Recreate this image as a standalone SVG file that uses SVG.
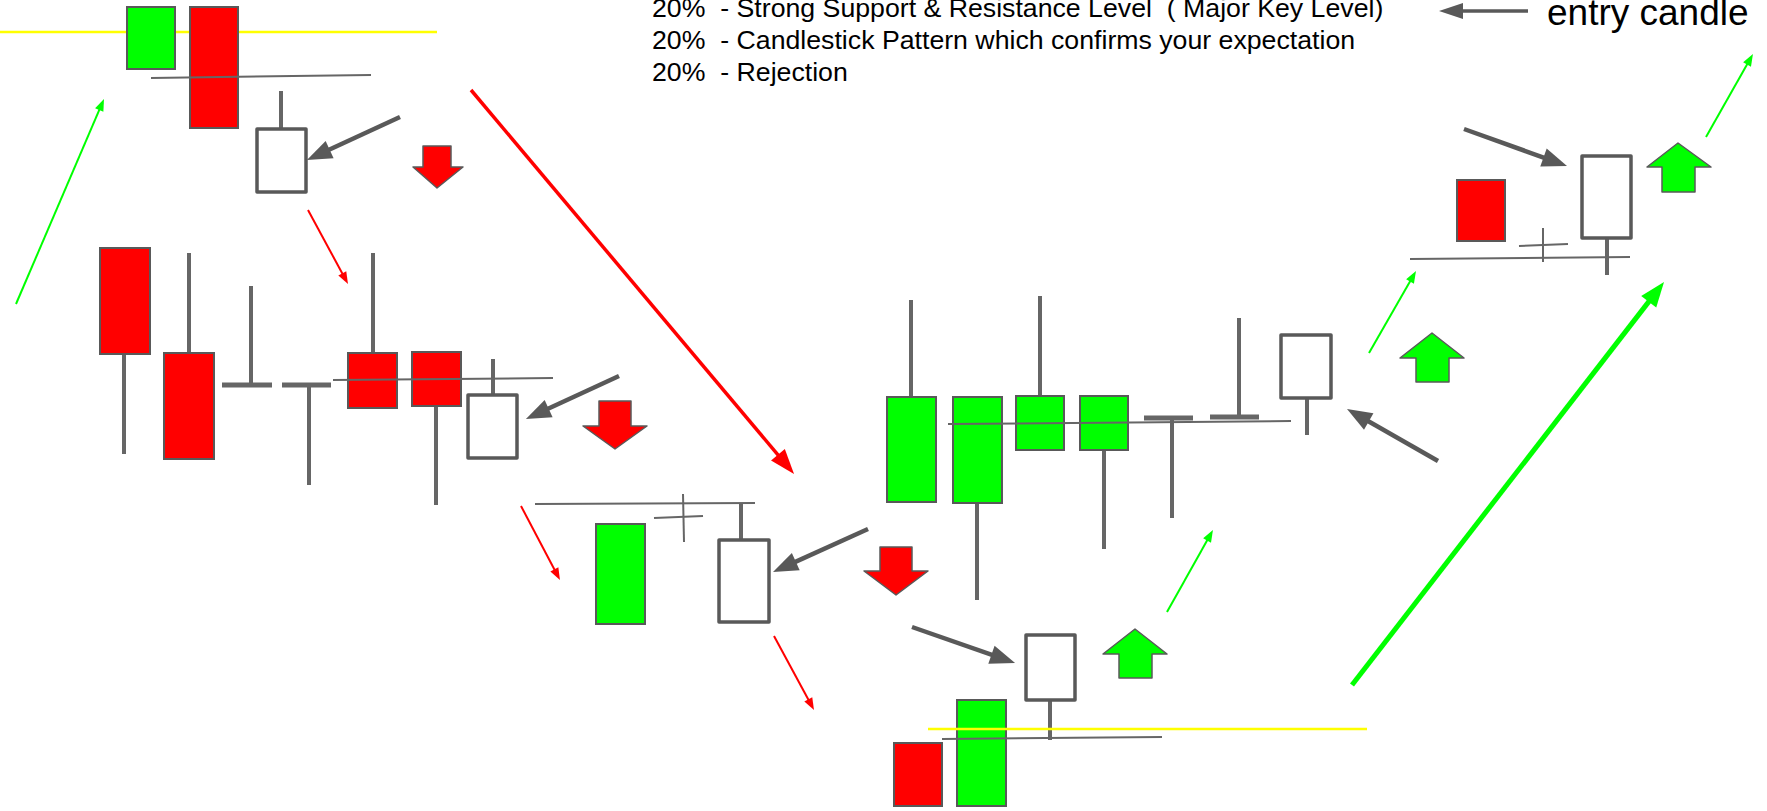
<svg xmlns="http://www.w3.org/2000/svg" width="1767" height="811" viewBox="0 0 1767 811">
<style>
.r{fill:#ff0000;stroke:#595959;stroke-width:2}
.g{fill:#00ff00;stroke:#595959;stroke-width:2}
.w{fill:#ffffff;stroke:#595959;stroke-width:3.5;stroke-linejoin:round}
.wk{stroke:#666666;stroke-width:4;fill:none}
.bar{stroke:#666666;stroke-width:5;fill:none}
.lvl{stroke:#666666;stroke-width:2;fill:none}
.yl{stroke:#ffff00;stroke-width:2.5;fill:none}
.ga{stroke:#595959;stroke-width:4.5;fill:none;marker-end:url(#mg)}
.la{stroke:#595959;stroke-width:3.5;fill:none;marker-end:url(#ml)}
.rb{stroke:#ff0000;stroke-width:3.5;fill:none;marker-end:url(#mrb)}
.gb{stroke:#00ff00;stroke-width:5;fill:none;marker-end:url(#mgb)}
.rt{stroke:#ff0000;stroke-width:2;fill:none;marker-end:url(#mrt)}
.gt{stroke:#00ff00;stroke-width:2;fill:none;marker-end:url(#mgt)}
.dn{fill:#ff0000;stroke:#595959;stroke-width:1.5;stroke-linejoin:round}
.up{fill:#00ff00;stroke:#595959;stroke-width:1.5;stroke-linejoin:round}
.t{font-family:"Liberation Sans",Arial,sans-serif;fill:#000000}
</style>
<defs>
<marker id="mg" markerUnits="userSpaceOnUse" markerWidth="25" markerHeight="19" refX="15" refY="9.5" orient="auto" overflow="visible"><path d="M0,0 L25,9.5 L0,19 z" fill="#595959"/></marker>
<marker id="ml" markerUnits="userSpaceOnUse" markerWidth="24" markerHeight="16" refX="14" refY="8" orient="auto" overflow="visible"><path d="M0,0 L24,8 L0,16 z" fill="#595959"/></marker>
<marker id="mrb" markerUnits="userSpaceOnUse" markerWidth="25" markerHeight="18" refX="15" refY="9" orient="auto" overflow="visible"><path d="M0,0 L25,9 L0,18 z" fill="#ff0000"/></marker>
<marker id="mgb" markerUnits="userSpaceOnUse" markerWidth="25" markerHeight="19" refX="15" refY="9.5" orient="auto" overflow="visible"><path d="M0,0 L25,9.5 L0,19 z" fill="#00ff00"/></marker>
<marker id="mrt" markerUnits="userSpaceOnUse" markerWidth="12" markerHeight="9" refX="8" refY="4.5" orient="auto" overflow="visible"><path d="M0,0 L12,4.5 L0,9 z" fill="#ff0000"/></marker>
<marker id="mgt" markerUnits="userSpaceOnUse" markerWidth="12" markerHeight="9" refX="8" refY="4.5" orient="auto" overflow="visible"><path d="M0,0 L12,4.5 L0,9 z" fill="#00ff00"/></marker>
</defs>
<rect x="0" y="0" width="1767" height="811" fill="#ffffff"/>

<g id="level-yellow-top"><line class="yl" x1="0" y1="32" x2="437" y2="32"/></g>

<g id="legend">
<text class="t" font-size="26.7" x="652" y="17" xml:space="preserve">20%  - Strong Support &amp; Resistance Level  ( Major Key Level)</text>
<text class="t" font-size="26.7" x="652" y="49" xml:space="preserve">20%  - Candlestick Pattern which confirms your expectation</text>
<text class="t" font-size="26.7" x="652" y="81" xml:space="preserve">20%  - Rejection</text>
<text class="t" font-size="37" x="1547" y="25">entry candle</text>
</g>

<g id="c1"><rect class="g" x="127" y="7" width="48" height="62"/></g>
<g id="c2"><rect class="r" x="190" y="7" width="48" height="121"/></g>
<g id="c3"><line class="wk" x1="281" y1="91" x2="281" y2="129"/><rect class="w" x="257" y="129" width="49" height="63"/></g>

<g id="c4"><line class="wk" x1="124" y1="354" x2="124" y2="454"/><rect class="r" x="100" y="248" width="50" height="106"/></g>
<g id="c5"><line class="wk" x1="189" y1="253" x2="189" y2="353"/><rect class="r" x="164" y="353" width="50" height="106"/></g>
<g id="c6"><line class="wk" x1="251" y1="286" x2="251" y2="385"/><line class="bar" x1="222" y1="385" x2="272" y2="385"/></g>
<g id="c7"><line class="wk" x1="309" y1="385" x2="309" y2="485"/><line class="bar" x1="282" y1="385" x2="331" y2="385"/></g>
<g id="c8"><line class="wk" x1="373" y1="253" x2="373" y2="353"/><rect class="r" x="348" y="353" width="49" height="55"/></g>
<g id="c9"><line class="wk" x1="436" y1="406" x2="436" y2="505"/><rect class="r" x="412" y="352" width="49" height="54"/></g>
<g id="c10"><line class="wk" x1="493" y1="359" x2="493" y2="395"/><rect class="w" x="468" y="395" width="49" height="63"/></g>

<g id="c11"><rect class="g" x="596" y="524" width="49" height="100"/></g>
<g id="c12"><line class="wk" x1="741" y1="503" x2="741" y2="540"/><rect class="w" x="719" y="540" width="50" height="82"/></g>

<g id="c13"><line class="wk" x1="911" y1="300" x2="911" y2="397"/><rect class="g" x="887" y="397" width="49" height="105"/></g>
<g id="c14"><line class="wk" x1="977" y1="503" x2="977" y2="600"/><rect class="g" x="953" y="397" width="49" height="106"/></g>
<g id="c15"><line class="wk" x1="1040" y1="296" x2="1040" y2="396"/><rect class="g" x="1016" y="396" width="48" height="54"/></g>
<g id="c16"><line class="wk" x1="1104" y1="450" x2="1104" y2="549"/><rect class="g" x="1080" y="396" width="48" height="54"/></g>
<g id="c17"><line class="wk" x1="1172" y1="418" x2="1172" y2="518"/><line class="bar" x1="1144" y1="418" x2="1193" y2="418"/></g>
<g id="c18"><line class="wk" x1="1239" y1="318" x2="1239" y2="417"/><line class="bar" x1="1210" y1="417" x2="1259" y2="417"/></g>
<g id="c19"><line class="wk" x1="1307" y1="398" x2="1307" y2="435"/><rect class="w" x="1281" y="335" width="50" height="63"/></g>

<g id="c20"><rect class="r" x="894" y="743" width="48" height="63"/></g>
<g id="c21"><rect class="g" x="957" y="700" width="49" height="106"/></g>
<g id="c22"><line class="wk" x1="1050" y1="700" x2="1050" y2="740"/><rect class="w" x="1026" y="635" width="49" height="65"/></g>

<g id="c23"><rect class="r" x="1457" y="180" width="48" height="61"/></g>
<g id="c24"><line class="wk" x1="1607" y1="238" x2="1607" y2="275"/><rect class="w" x="1582" y="156" width="49" height="82"/></g>

<g id="levels">
<line class="lvl" x1="151" y1="78" x2="371" y2="75"/>
<line class="lvl" x1="333" y1="380" x2="553" y2="378"/>
<line class="lvl" x1="535" y1="504" x2="755" y2="503"/>
<line class="lvl" x1="654" y1="518" x2="703" y2="516"/>
<line class="lvl" x1="683" y1="494" x2="684" y2="542"/>
<line class="lvl" x1="948" y1="424" x2="1291" y2="421"/>
<line class="lvl" x1="942" y1="739" x2="1162" y2="737"/>
<line class="lvl" x1="1410" y1="259" x2="1630" y2="257"/>
<line class="lvl" x1="1519" y1="246" x2="1568" y2="244"/>
<line class="lvl" x1="1543" y1="228" x2="1543" y2="262"/>
</g>
<g id="level-yellow-bottom"><line class="yl" x1="928" y1="729" x2="1367" y2="729"/></g>

<g id="block-arrows">
<polygon class="dn" points="423,146 451,146 451,167 463,167 437,188 413,167 423,167"/>
<polygon class="dn" points="599,401 631,401 631,426 647,426 615,449 583,426 599,426"/>
<polygon class="dn" points="880,547 912,547 912,571 928,571 896,595 864,571 880,571"/>
<polygon class="up" points="1135,629 1167,654 1152,654 1152,678 1119,678 1119,654 1103,654"/>
<polygon class="up" points="1432,333 1464,358 1449,358 1449,382 1416,382 1416,358 1400,358"/>
<polygon class="up" points="1678,143 1711,167 1695,167 1695,192 1662,192 1662,167 1647,167"/>
</g>

<g id="connectors">
<line class="ga" x1="400" y1="117" x2="316" y2="155.8"/>
<line class="ga" x1="619" y1="376" x2="535" y2="414.8"/>
<line class="ga" x1="868" y1="529" x2="782.1" y2="567.9"/>
<line class="ga" x1="912" y1="627" x2="1005.6" y2="659.7"/>
<line class="ga" x1="1438" y1="461" x2="1355.7" y2="414"/>
<line class="ga" x1="1464" y1="129" x2="1557.6" y2="162.6"/>
<line class="la" x1="1528" y1="11" x2="1449" y2="11"/>
<line class="rb" x1="471" y1="90" x2="787.6" y2="466.3"/>
<line class="gb" x1="1352" y1="685" x2="1657.9" y2="289.9"/>
<line class="rt" x1="308" y1="210" x2="346.1" y2="280.5"/>
<line class="rt" x1="521" y1="506" x2="558.1" y2="576.5"/>
<line class="rt" x1="774" y1="636" x2="812.1" y2="706.5"/>
<line class="gt" x1="16" y1="304" x2="102.4" y2="102.7"/>
<line class="gt" x1="1167" y1="612" x2="1211" y2="533.5"/>
<line class="gt" x1="1369" y1="353" x2="1414" y2="274.5"/>
<line class="gt" x1="1706" y1="137" x2="1751" y2="57.5"/>
</g>
</svg>
